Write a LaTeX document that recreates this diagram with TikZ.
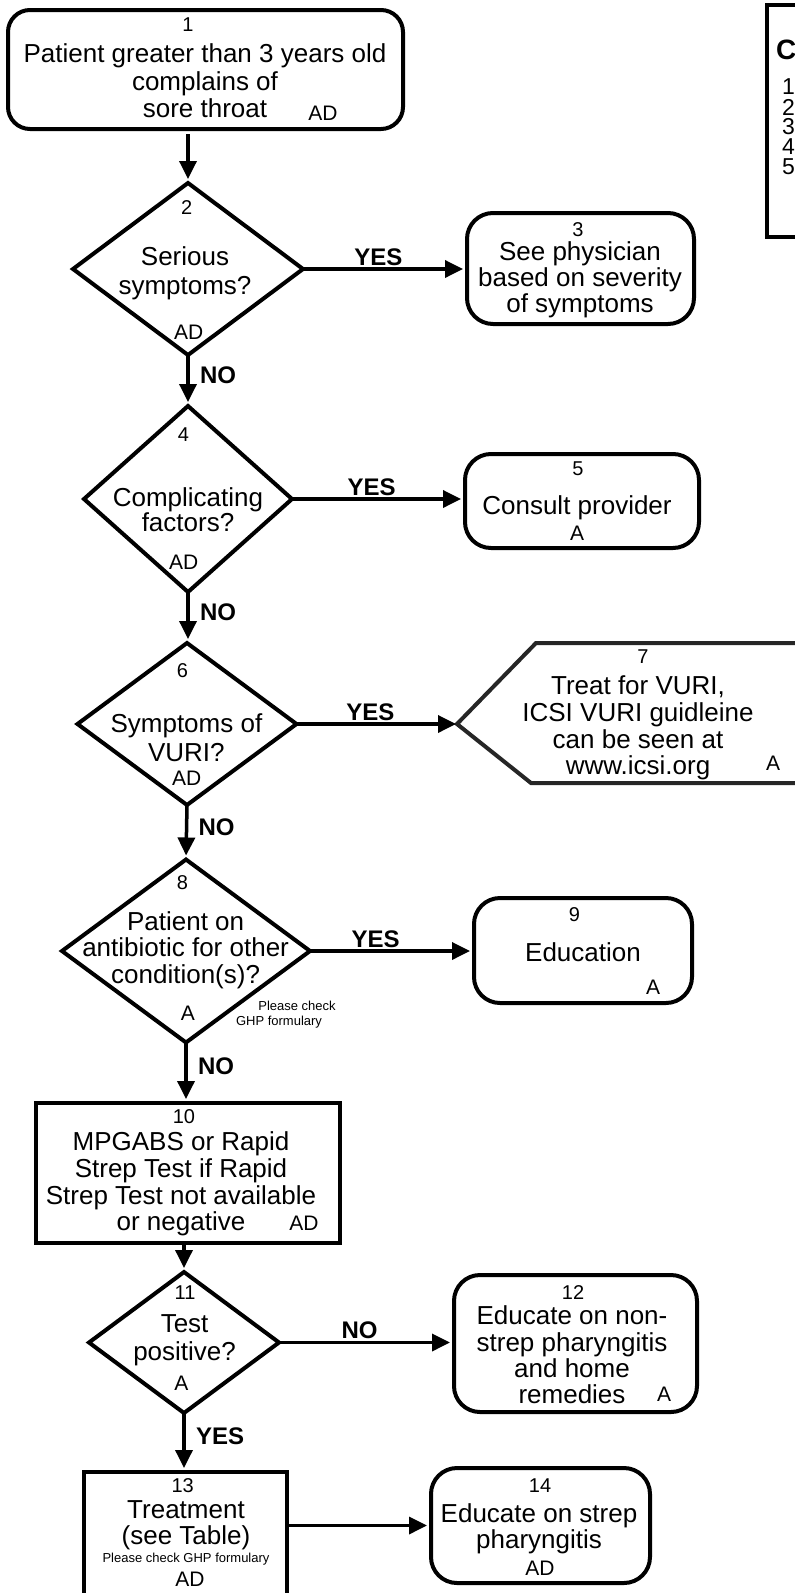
\documentclass[tikz,border=0pt]{standalone}
\usepackage{fontspec}
\setmainfont{Liberation Sans}
\usetikzlibrary{shapes.geometric, arrows.meta, positioning, calc}

\begin{document}
\begin{tikzpicture}[x=1pt, y=-1pt,
        every node/.style={inner sep=0pt, outer sep=0pt},
        roundbox/.style={draw, line width=4pt, rounded corners=26pt},
        plainbox/.style={draw, line width=4pt},
        decision/.style={draw, diamond, line width=4pt},
        txt/.style={font=\fontsize{26}{26.5}\selectfont, align=center},
        num/.style={font=\fontsize{20}{20}\selectfont},
        code/.style={font=\fontsize{21}{21}\selectfont},
        note/.style={font=\fontsize{13}{13}\selectfont},
        lab/.style={font=\fontsize{24}{24}\selectfont\bfseries},
        arrow/.style={-{Triangle[length=18pt, width=17pt]}, line width=3.5pt, shorten >=4pt}
    ]
        \useasboundingbox (0,0) rectangle (795,1593);
        \clip (0,0) rectangle (795,1593);

        % shapes
        \node (b1) [roundbox, rounded corners=22pt, minimum width=395pt, minimum height=119pt] at (205.5,69.5) {};
        \node (d2) [decision, minimum width=230pt, minimum height=172pt] at (188,269) {};
        \node (b3) [roundbox, minimum width=227pt, minimum height=111pt] at (580.5,268.5) {};
        \node (d4) [decision, minimum width=208pt, minimum height=186pt] at (188,499) {};
        \node (b5) [roundbox, minimum width=234pt, minimum height=94pt] at (582,501) {};
        \node (d6) [decision, minimum width=219pt, minimum height=162pt] at (187,724) {};
        \coordinate (b7) at (457,724);
        \draw [line width=4pt, black!85] (830,643) -- (536,643) -- (b7) -- (531,783) -- (830,783);
        \node (d8) [decision, minimum width=248pt, minimum height=183pt] at (186,951) {};
        \node (b9) [roundbox, minimum width=218pt, minimum height=105pt] at (583,950.5) {};
        \node (b10) [plainbox, minimum width=304pt, minimum height=140pt] at (188,1173) {};
        \node (d11) [decision, minimum width=190pt, minimum height=141pt] at (184,1342.5) {};
        \node (b12) [roundbox, minimum width=243pt, minimum height=137pt] at (575.5,1343.5) {};
        \node (b13) [plainbox, anchor=north, minimum width=203pt, minimum height=180pt] at (185.5,1472) {};
        \node (b14) [roundbox, minimum width=219pt, minimum height=115pt] at (540.5,1525.5) {};
        \node (key) [plainbox, anchor=north west, minimum width=120pt, minimum height=232pt] at (767,5) {};

        % texts
        \node (n1) [num] at (188,25) {1};
        \node (t1) [txt, font=\fontsize{26}{27.5}\selectfont] at (205,81) {Patient greater than 3 years old\\complains of\\sore throat};
        \node (c1) [code] at (323,113) {AD};

        \node (n2) [num] at (186.6,208) {2};
        \node (t2) [txt, font=\fontsize{26}{29}\selectfont] at (185,273) {Serious\\symptoms?};
        \node (c2) [code] at (188.6,332) {AD};

        \node (n3) [num] at (578,230) {3};
        \node (t3) [txt, font=\fontsize{26}{26}\selectfont] at (580,280) {See physician\\based on severity\\of symptoms};

        \node (n4) [num] at (183.5,435) {4};
        \node (t4) [txt, font=\fontsize{26}{25}\selectfont] at (188,510) {Complicating\\factors?};
        \node (c4) [code] at (183.6,562) {AD};

        \node (n5) [num] at (578,469) {5};
        \node (t5) [txt] at (577,508) {Consult provider};
        \node (c5) [code] at (577,533) {A};

        \node (n6) [num] at (182.5,671) {6};
        \node (t6) [txt, font=\fontsize{26}{29}\selectfont] at (186.4,738) {Symptoms of\\VURI?};
        \node (c6) [code] at (186.6,778) {AD};

        \node (n7) [num] at (643,657) {7};
        \node (t7) [txt, font=\fontsize{26}{26.7}\selectfont] at (638,728) {Treat for VURI,\\ICSI VURI guidleine\\can be seen at\\www.icsi.org};
        \node (c7) [code] at (773,763) {A};

        \node (n8) [num] at (182.5,883) {8};
        \node (t8) [txt] at (185.6,950) {Patient on\\antibiotic for other\\condition(s)?};
        \node (c8) [code] at (188,1013) {A};
        \node (f8a) [note] at (297,1006) {Please check};
        \node (f8b) [note] at (279,1022) {GHP formulary};

        \node (n9) [num] at (574.5,915) {9};
        \node (t9) [txt] at (583,952) {Education};
        \node (c9) [code] at (653,987) {A};

        \node (n10) [num] at (184,1117) {10};
        \node (t10) [txt, font=\fontsize{26}{26.7}\selectfont] at (181,1184) {MPGABS or Rapid\\Strep Test if Rapid\\Strep Test not available\\or negative};
        \node (c10) [code] at (304,1223) {AD};

        \node (n11) [num] at (185,1293) {11};
        \node (t11) [txt, font=\fontsize{26}{28}\selectfont] at (184.6,1340) {Test\\positive?};
        \node (c11) [code] at (181.5,1383) {A};

        \node (n12) [num] at (573,1293) {12};
        \node (t12) [txt, font=\fontsize{26}{26.3}\selectfont] at (572,1355) {Educate on non-\\strep pharyngitis\\and home\\remedies};
        \node (c12) [code] at (664,1394) {A};

        \node (n13) [num] at (182.7,1486) {13};
        \node (t13) [txt, font=\fontsize{26}{26}\selectfont] at (186,1525) {Treatment\\(see Table)};
        \node (f13) [note] at (186,1559) {Please check GHP formulary};
        \node (c13) [code] at (190,1579) {AD};

        \node (n14) [num] at (540,1486) {14};
        \node (t14) [txt, font=\fontsize{26}{26}\selectfont] at (539,1529) {Educate on strep\\pharyngitis};
        \node (c14) [code] at (540,1568) {AD};

        \node (keyc) [anchor=west, font=\fontsize{28}{28}\selectfont\bfseries] at (776,50) {C};
        \foreach \i in {1,...,5}
            \node (key\i) [anchor=west, font=\fontsize{23}{23}\selectfont] at (782,{67+20*\i}) {\i};

        % connectors
        \draw [arrow, shorten <=5pt] (b1.south -| d2.north) -- (d2.north);
        \draw [arrow] (d2.east) -- node (yes2) [lab, pos=0.46, anchor=south, yshift=3.7pt] {YES} (d2.east -| b3.west);
        \draw [arrow] (d2.south) -- node (no2) [lab, pos=0.4, anchor=west, xshift=12pt] {NO} (d4.north);
        \draw [arrow] (d4.east) -- node (yes4) [lab, pos=0.46, anchor=south, yshift=3.7pt] {YES} (d4.east -| b5.west);
        \draw [arrow] (d4.south) -- node (no4) [lab, pos=0.4, anchor=west, xshift=12pt] {NO} (d4.south |- d6.north);
        \draw [arrow, shorten >=1pt] (d6.east) -- node (yes6) [lab, pos=0.46, anchor=south, yshift=3.7pt] {YES} (d6.east -| b7);
        \draw [arrow] (d6.south) -- node (no6) [lab, pos=0.4, anchor=west, xshift=12pt] {NO} (d8.north);
        \draw [arrow] (d8.east) -- node (yes8) [lab, pos=0.4, anchor=south, yshift=3.7pt] {YES} (d8.east -| b9.west);
        \draw [arrow] (d8.south) -- node (no8) [lab, pos=0.4, anchor=west, xshift=12pt] {NO} (d8.south |- b10.north);
        \draw [arrow, shorten <=2pt] (d11.north |- b10.south) -- (d11.north);
        \draw [arrow] (d11.east) -- node (no11) [lab, pos=0.46, anchor=south, yshift=3.7pt] {NO} (d11.east -| b12.west);
        \draw [arrow] (d11.south) -- node (yes11) [lab, pos=0.4, anchor=west, xshift=12pt] {YES} (d11.south |- b13.north);
        \draw [arrow] (b13.east |- b14.west) -- (b14.west);
    \end{tikzpicture}
\end{document}
